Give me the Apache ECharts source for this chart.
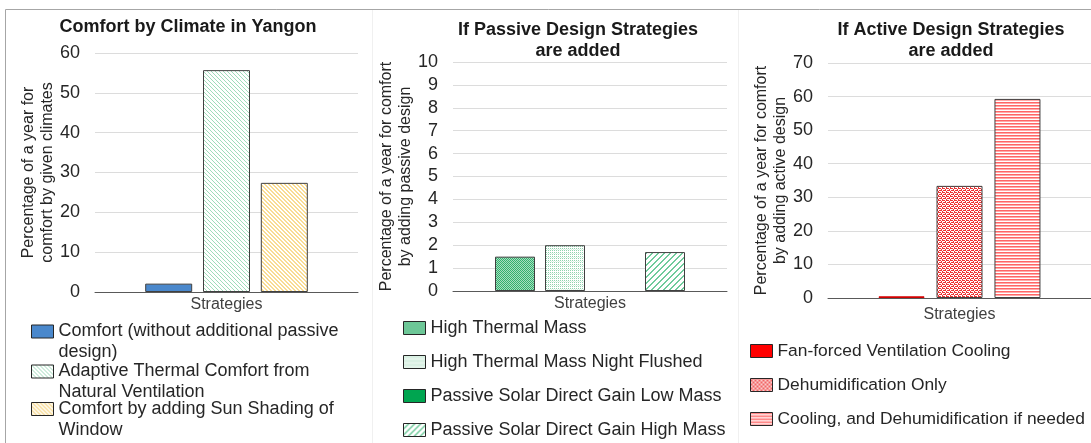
<!DOCTYPE html>
<html>
<head>
<meta charset="utf-8">
<script src="https://cdn.jsdelivr.net/npm/echarts@6.0.0/dist/echarts.min.js"></script>
<style>
  html, body { margin: 0; padding: 0; background: #ffffff; }
  #chart { width: 1091px; height: 443px; }
</style>
</head>
<body>
<div id="chart"></div>
<script>
// ---- data ----
const categories = ['Strategies'];

const climateTitle = 'Comfort by Climate in Yangon';
const climateAxisName = 'Percentage of a year for\ncomfort by given climates';
const climateNames = [
  'Comfort (without additional passive design)',
  'Adaptive Thermal Comfort from Natural Ventilation',
  'Comfort by adding Sun Shading of Window'
];
const climateValues = [2.1, 55.7, 27.4];
const climateTicks = { max: 60, interval: 10 };

const passiveTitle = 'If Passive Design Strategies\nare added';
const passiveAxisName = 'Percentage of a year for comfort\nby adding passive design';
const passiveNames = [
  'High Thermal Mass',
  'High Thermal Mass Night Flushed',
  'Passive Solar Direct Gain Low Mass',
  'Passive Solar Direct Gain High Mass'
];
const passiveValues = [1.5, 2.0, 0, 1.7];
const passiveTicks = { max: 10, interval: 1 };

const activeTitle = 'If Active Design Strategies\nare added';
const activeAxisName = 'Percentage of a year for comfort\nby adding active design';
const activeNames = [
  'Fan-forced Ventilation Cooling',
  'Dehumidification Only',
  'Cooling, and Dehumidification if needed'
];
const activeValues = [0.5, 33.4, 59.3];
const activeTicks = { max: 70, interval: 10 };

// ---- fill patterns ----
function pattern(rows, palette) {
  const h = rows.length, w = rows[0].length;
  const c = document.createElement('canvas');
  c.width = w; c.height = h;
  const ctx = c.getContext('2d');
  for (let y = 0; y < h; y++) {
    for (let x = 0; x < w; x++) {
      ctx.fillStyle = palette[rows[y][x]];
      ctx.fillRect(x, y, 1, 1);
    }
  }
  return { image: c, repeat: 'repeat' };
}

const fills = {
  comfort: '#4a88cc',
  adaptive: pattern(['gwww', 'wgww', 'wwgw', 'wwwg'], { g: '#9fdcbb', w: '#ffffff' }),
  shading: pattern(['yyww', 'wyyw', 'wwyy', 'ywwy'], { y: '#f9dc93', w: '#ffffff' }),
  thermal: pattern(['ab', 'ba'], { a: '#32b06e', b: '#a8dec0' }),
  flushed: pattern(['gwgw', 'wlwl', 'gwgw', 'wwww'], { g: '#8fd3ae', l: '#d8f1e3', w: '#ffffff' }),
  lowMass: '#00a550',
  highMass: pattern(['wwwwgg', 'wwwggw', 'wwggww', 'wggwww', 'ggwwww', 'gwwwwg'], { g: '#6fcb9b', w: '#ffffff' }),
  fan: '#ff0000',
  dehum: pattern(['rwrr', 'wrww', 'rrwr', 'wwrw'], { r: '#ee3333', w: '#ffffff' }),
  cooling: pattern(['r', 'p', 'w'], { r: '#ff6666', p: '#ffaaaa', w: '#ffffff' })
};
const climateFills = [fills.comfort, fills.adaptive, fills.shading];
const passiveFills = [fills.thermal, fills.flushed, fills.lowMass, fills.highMass];
const activeFills = [fills.fan, fills.dehum, fills.cooling];
const activeBorders = ['#d00000', '#404040', '#404040'];

// ---- styling ----
const FONT = '"Liberation Sans", Arial, Helvetica, sans-serif';
const TEXT = '#262626';

// legend swatch for two-line entries: a 22x13 box at the top of a 22x34 frame,
// so the swatch lines up with the first line of the wrapped label
const TALL_ICON = 'path://M0,0L22,0L22,13L0,13Z M0,34';

const panels = [
  { title: climateTitle, titleX: 188, titleY: 17, axisName: climateAxisName,
    names: climateNames, values: climateValues, ticks: climateTicks, fills: climateFills,
    grid: { left: 95, top: 53, width: 263, height: 239 }, barWidth: 47, barGap: '23%', labelMargin: 5,
    legend: { left: 31, centers: [331.5, 371.5, 409], wrap: true, fontSize: 18 } },
  { title: passiveTitle, titleX: 578, titleY: 19.5, axisName: passiveAxisName,
    names: passiveNames, values: passiveValues, ticks: passiveTicks, fills: passiveFills,
    grid: { left: 453, top: 62, width: 274, height: 229 }, barWidth: 40, barGap: '25%', labelMargin: 5,
    legend: { left: 403, centers: [328, 362, 396, 430], wrap: false, fontSize: 18 } },
  { title: activeTitle, titleX: 951, titleY: 19.5, axisName: activeAxisName,
    names: activeNames, values: activeValues, ticks: activeTicks, fills: activeFills, borders: activeBorders,
    grid: { left: 828, top: 63, width: 263, height: 235 }, barWidth: 46, barGap: '26%', labelMargin: 9,
    legend: { left: 750, centers: [351, 385, 419], wrap: false, fontSize: 17.4 } }
];

const option = {
  animation: false,
  backgroundColor: '#ffffff',
  textStyle: { fontFamily: FONT },
  title: [], grid: [], xAxis: [], yAxis: [], legend: [], series: [],
  graphic: [
    { type: 'line', silent: true, shape: { x1: 5.5, y1: 9.5, x2: 1091, y2: 9.5 }, style: { stroke: '#a6a6a6', lineWidth: 1 } },
    { type: 'line', silent: true, shape: { x1: 5.5, y1: 9.5, x2: 5.5, y2: 443 }, style: { stroke: '#a6a6a6', lineWidth: 1 } },
    { type: 'line', silent: true, shape: { x1: 372.5, y1: 10, x2: 372.5, y2: 443 }, style: { stroke: '#f0f0f0', lineWidth: 1 } },
    { type: 'line', silent: true, shape: { x1: 738.5, y1: 10, x2: 738.5, y2: 443 }, style: { stroke: '#f0f0f0', lineWidth: 1 } }
  ]
};

panels.forEach((p, g) => {
  option.title.push({
    text: p.title, left: p.titleX, top: p.titleY, textAlign: 'center', padding: 0,
    textStyle: { fontFamily: FONT, fontSize: 18, fontWeight: 'bold', lineHeight: 21, color: '#1a1a1a' }
  });
  option.grid.push(Object.assign({ outerBoundsMode: 'none', containLabel: false }, p.grid));
  option.xAxis.push({
    type: 'category', gridIndex: g, data: categories,
    axisLine: { lineStyle: { color: '#595959', width: 1 } },
    axisTick: { show: false },
    axisLabel: { margin: p.labelMargin, fontSize: 16, color: '#404040', fontFamily: FONT },
    splitLine: { show: false }
  });
  option.yAxis.push({
    type: 'value', gridIndex: g, min: 0, max: p.ticks.max, interval: p.ticks.interval,
    name: p.axisName, nameLocation: 'middle', nameGap: 38, nameRotate: 90, nameMoveOverlap: false,
    nameTextStyle: { fontSize: 16, lineHeight: 19, color: TEXT, fontFamily: FONT },
    axisLine: { show: false }, axisTick: { show: false },
    axisLabel: { fontSize: 18, margin: 15, color: TEXT, fontFamily: FONT },
    splitLine: { lineStyle: { color: '#dcdcdc', width: 1 } }
  });
  p.names.forEach((name, i) => {
    option.series.push({
      type: 'bar', name: name, xAxisIndex: g, yAxisIndex: g,
      data: [p.values[i]], barWidth: p.barWidth, barGap: p.barGap,
      itemStyle: {
        color: p.fills[i],
        borderColor: p.borders ? p.borders[i] : '#404040',
        borderWidth: p.values[i] > 0 ? 1 : 0
      }
    });
    const centre = p.legend.centers[i];
    const wrap = p.legend.wrap;
    option.legend.push({
      data: [name], left: p.legend.left,
      top: wrap ? centre - 10.5 : centre - 10,
      orient: 'vertical', padding: 0,
      icon: wrap ? TALL_ICON : 'rect', itemWidth: 22, itemHeight: wrap ? 34 : 13,
      selectedMode: false,
      itemStyle: { borderColor: '#262626', borderWidth: 1 },
      textStyle: wrap
        ? { fontSize: p.legend.fontSize, lineHeight: 21, color: TEXT, fontFamily: FONT, width: 300, overflow: 'break' }
        : { fontSize: p.legend.fontSize, lineHeight: 20, color: TEXT, fontFamily: FONT }
    });
  });
});

const chart = echarts.init(document.getElementById('chart'), null, { renderer: 'canvas' });
chart.setOption(option);
</script>
</body>
</html>
